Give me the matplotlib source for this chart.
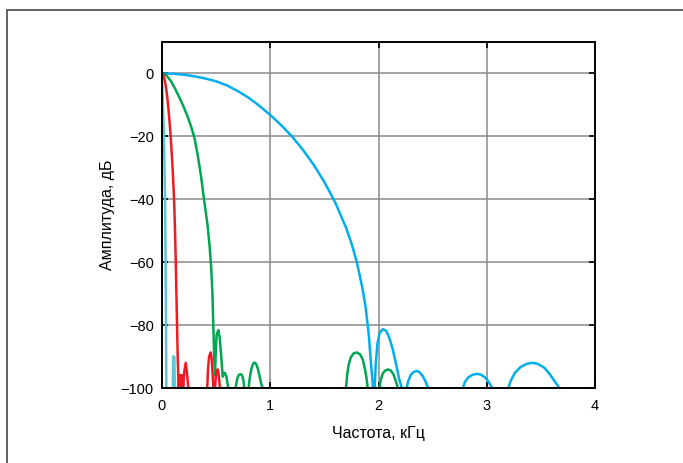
import numpy as np
import matplotlib.pyplot as plt
from matplotlib.patches import Rectangle

nan = np.nan

# light cyan (narrowest filter)
cyan_x = [0, 0.008, 0.018, 0.028, 0.033, 0.037, 0.040, nan, 0.100, 0.104, 0.114, 0.118]
cyan_y = [0, -10, -20, -40, -60, -80, -100, nan, -100, -90, -90, -100]

# blue (widest filter)
blue_x = [0, 0.1, 0.2, 0.3, 0.4, 0.5, 0.6, 0.7, 0.8, 0.9, 1.0, 1.1, 1.2, 1.3, 1.4, 1.5,
          1.6, 1.7, 1.75, 1.8, 1.85, 1.88, 1.91, 1.93, 1.95, nan,
          1.965, 1.975, 1.99, 2.01, 2.04, 2.07, 2.10, 2.13, 2.16, 2.19, 2.215, nan,
          2.26, 2.275, 2.30, 2.33, 2.355, 2.38, 2.41, 2.435, 2.45, 2.46, nan,
          2.78, 2.80, 2.83, 2.87, 2.91, 2.95, 2.99, 3.02, 3.04, 3.05, nan,
          3.20, 3.22, 3.26, 3.31, 3.37, 3.42, 3.47, 3.53, 3.58, 3.62, 3.65, 3.67]
blue_y = [0, -0.1, -0.4, -0.9, -1.6, -2.5, -3.8, -5.6, -7.7, -10.3, -13.2, -16.4, -20.0, -24.2, -29, -34.5,
          -41, -49, -54, -60, -68, -74, -83, -92, -100, nan,
          -100, -92, -86, -82.5, -81.3, -81.8, -84, -87.5, -92, -97, -100, nan,
          -100, -97.8, -95.7, -94.8, -94.6, -95, -96.3, -98, -99.3, -100, nan,
          -100, -98, -96.6, -95.8, -95.5, -95.8, -96.8, -98.2, -99.4, -100, nan,
          -100, -97.8, -95.2, -93.4, -92.3, -92, -92.3, -93.5, -95.5, -97.5, -99, -100]

# green
green_x = [0, 0.04, 0.08, 0.12, 0.16, 0.20, 0.24, 0.27, 0.30, 0.33, 0.36, 0.39, 0.42, 0.44,
           0.455, 0.466, 0.474, 0.482, 0.49,
           0.497, 0.505, 0.52, 0.533, 0.545, 0.561, 0.572, 0.582, 0.595, 0.605, 0.612, nan,
           0.68, 0.695, 0.71, 0.725, 0.74, 0.752, 0.76, nan,
           0.80, 0.81, 0.825, 0.84, 0.853, 0.868, 0.885, 0.90, 0.915, 0.93, nan,
           1.70, 1.71, 1.725, 1.745, 1.77, 1.80, 1.83, 1.855, 1.875, 1.89, 1.90, nan,
           2.01, 2.02, 2.04, 2.065, 2.09, 2.115, 2.14, 2.16, 2.175, 2.18]
green_y = [0, -0.6, -2.3, -4.8, -7.6, -10.6, -14.0, -17.0, -20.5, -26, -32.5, -40.5, -48, -55,
           -62, -70, -80, -90, -96,
           -88, -83, -81.6, -84, -89, -96.4, -95.4, -95.2, -96.5, -98.5, -100, nan,
           -100, -97, -95.8, -95.6, -96, -97.5, -100, nan,
           -100, -97, -94, -92.4, -91.9, -92.3, -93.8, -96, -98.5, -100, nan,
           -100, -96, -92.5, -90.2, -89, -88.7, -89.3, -91, -94, -97, -100, nan,
           -100, -97.5, -95.3, -94.4, -94.1, -94.5, -95.8, -97.8, -99.5, -100]

# red
red_x = [0, 0.01, 0.02, 0.03, 0.04, 0.05, 0.06, 0.07, 0.08, 0.09, 0.10, 0.11, 0.118, 0.126,
         0.133, 0.139, 0.145, 0.15,
         0.155, 0.16, 0.165, 0.17, 0.175, 0.18, 0.185, 0.19, 0.195,
         0.205, 0.219, 0.23, 0.243, nan,
         0.418, 0.425, 0.435, 0.45, 0.46, 0.468, 0.475, nan,
         0.49, 0.498, 0.507, 0.515, 0.522, 0.53, 0.535]
red_y = [0, -0.4, -1.4, -3.0, -5.2, -8.0, -11.5, -15.5, -20, -25.5, -31.5, -39, -47, -58,
         -70, -80, -90, -96,
         -100, -96, -100, -96, -100, -96, -100, -96, -100,
         -95, -92, -95, -100, nan,
         -100, -94, -90, -88.7, -91, -96, -100, nan,
         -100, -96, -94.3, -94.1, -95.5, -98, -100]

plt.rcParams['font.family'] = ['Liberation Sans', 'DejaVu Sans']

fig = plt.figure(figsize=(6.83, 4.63), dpi=100)
ax = fig.add_axes([162/683, 1-388/463, 433/683, 346/463])

lw = 1.8
ax.plot(cyan_x, cyan_y, color='#5ac6d6', lw=lw)
ax.plot(blue_x, blue_y, color='#00aeef', lw=lw)
ax.plot(green_x, green_y, color='#00a651', lw=lw)
ax.plot(red_x, red_y, color='#ed1c24', lw=lw)

ax.set_xlim(0, 4)
ax.set_ylim(-100, 10)
ax.set_xticks([0, 1, 2, 3, 4])
ax.set_yticks([0, -20, -40, -60, -80, -100])
ax.grid(True, color='#8a8a8a', lw=1.1)
ax.set_axisbelow(True)
ax.tick_params(direction='in', length=4, width=1.2, top=True, right=True,
               labelsize=10.5)
ax.tick_params(axis='x', pad=8)
ax.tick_params(axis='y', pad=6)
for s in ax.spines.values():
    s.set_linewidth(1.4)

ax.set_xlabel('Частота, кГц', fontsize=11.5, labelpad=9)
ax.set_ylabel('Амплитуда, дБ', fontsize=11.5, labelpad=4)

# outer frame, open to the right and bottom
frame = Rectangle((6.5/683, -0.2), 1.2, 1.2 - 9.5/463, transform=fig.transFigure,
                  fill=False, edgecolor='#555555', lw=1.3, clip_on=False)
fig.patches.append(frame)

fig.savefig('out.png', dpi=100)
